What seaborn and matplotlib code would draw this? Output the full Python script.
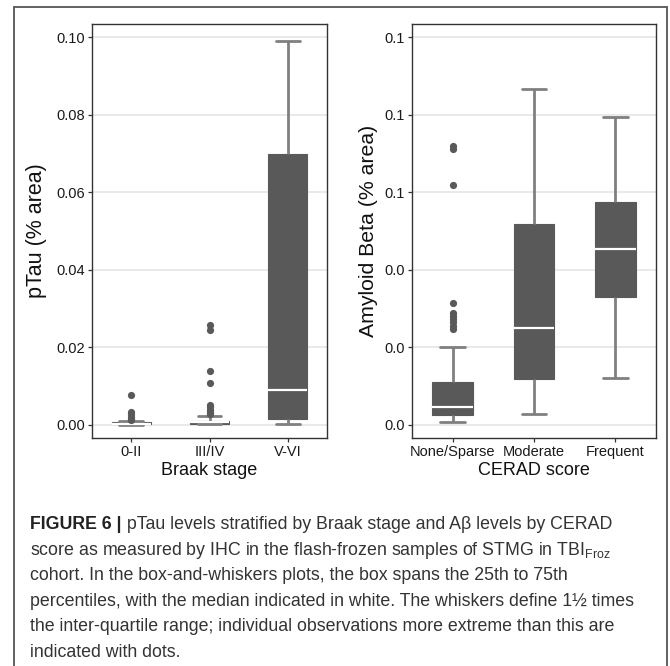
import numpy as np
import pandas as pd
import matplotlib
matplotlib.use("Agg")
import matplotlib.pyplot as plt
import seaborn as sns
from matplotlib import font_manager
from matplotlib.patches import Rectangle
from matplotlib.ticker import FormatStrFormatter, FixedLocator

# ---------------- data ----------------
braak_stages = ["0-II", "III/IV", "V-VI"]
ptau_whislo = [0.0000, 0.0001, 0.0003]
ptau_q1 = [0.0001, 0.0003, 0.0015]
ptau_med = [0.0002, 0.0007, 0.0090]
ptau_q3 = [0.0006, 0.0011, 0.0699]
ptau_whishi = [0.0009, 0.0024, 0.0991]
ptau_outliers = {
    "0-II": [0.0077, 0.0033, 0.0028, 0.0020, 0.0016, 0.0012],
    "III/IV": [0.0258, 0.0245, 0.0139, 0.0109, 0.0052, 0.0045, 0.0038, 0.0032, 0.0028],
    "V-VI": [],
}

cerad_scores = ["None/Sparse", "Moderate", "Frequent"]
ab_whislo = [0.0007, 0.0028, 0.0120]
ab_q1 = [0.0026, 0.0119, 0.0331]
ab_med = [0.0047, 0.0249, 0.0453]
ab_q3 = [0.0110, 0.0519, 0.0575]
ab_whishi = [0.0200, 0.0866, 0.0794]
ab_outliers = {
    "None/Sparse": [0.0718, 0.0712, 0.0619, 0.0314, 0.0288, 0.0280, 0.0272,
                    0.0264, 0.0256, 0.0248],
    "Moderate": [],
    "Frequent": [],
}

y_ticks = [0.00, 0.02, 0.04, 0.06, 0.08, 0.10]

caption_bold = "FIGURE 6 |"
caption_lines = [
    " pTau levels stratified by Braak stage and A\u03b2 levels by CERAD",
    "score as measured by IHC in the flash-frozen samples of STMG in TBI$_{\\mathregular{Froz}}$",
    "cohort. In the box-and-whiskers plots, the box spans the 25th to 75th",
    "percentiles, with the median indicated in white. The whiskers define 1\u00bd times",
    "the inter-quartile range; individual observations more extreme than this are",
    "indicated with dots.",
]

# ---------------- style ----------------
sns.set_theme(style="white")
plt.rcParams["font.family"] = ["Liberation Sans", "DejaVu Sans"]

BOX = "#595959"
WHISK = "#808080"
SPINE = "#333333"

W, H = 670, 666
fig = plt.figure(figsize=(W / 100, H / 100), dpi=100)


def axrect(l, t, r, b):
    return [l / W, 1 - b / H, (r - l) / W, (b - t) / H]


ax1 = fig.add_axes(axrect(92, 24, 327, 438))
ax2 = fig.add_axes(axrect(412, 24, 656, 438))


def box_frame(cats, *cols):
    rows = []
    for i, c in enumerate(cats):
        for col in cols:
            rows.append((c, col[i]))
    return pd.DataFrame(rows, columns=["cat", "val"])


def out_frame(outs):
    rows = [(c, v) for c, vals in outs.items() for v in vals]
    return pd.DataFrame(rows, columns=["cat", "val"])


def draw(ax, cats, bdf, odf, fmt, xlabel, ylabel, ylabel_fs, ylabelpad):
    sns.boxplot(data=bdf, x="cat", y="val", order=cats, ax=ax, color=BOX,
                saturation=1, width=0.5, whis=(0, 100), fliersize=0,
                linewidth=2, linecolor=WHISK,
                medianprops=dict(color="white", linewidth=1.6),
                capwidths=0.3)
    for p in ax.patches:
        p.set_facecolor(BOX)
        p.set_edgecolor(BOX)
        p.set_linewidth(0.8)
    sns.stripplot(data=odf, x="cat", y="val", order=cats, ax=ax,
                  jitter=False, color=BOX, size=5.2, linewidth=0, zorder=3)
    ax.set_xlim(-0.5, 2.5)
    ax.set_ylim(-0.0034, 0.1034)
    ax.yaxis.set_major_locator(FixedLocator(y_ticks))
    ax.yaxis.set_major_formatter(FormatStrFormatter(fmt))
    ax.yaxis.grid(True, color="#e3e3e3", linewidth=1.1)
    ax.xaxis.grid(False)
    ax.set_axisbelow(True)
    ax.tick_params(axis="both", direction="out", length=3, width=0.9,
                   color=SPINE, labelsize=10.5, labelcolor="#1a1a1a", pad=2,
                   bottom=True, left=True)
    for s in ax.spines.values():
        s.set_visible(True)
        s.set_color(SPINE)
        s.set_linewidth(1.0)
    ax.set_xlabel(xlabel, fontsize=13, color="#111111", labelpad=2)
    ax.set_ylabel(ylabel, fontsize=ylabel_fs, color="#111111", labelpad=ylabelpad)


draw(ax1, braak_stages,
     box_frame(braak_stages, ptau_whislo, ptau_q1, ptau_med, ptau_q3, ptau_whishi),
     out_frame(ptau_outliers), "%.2f", "Braak stage", "pTau (% area)", 15.5, 7)
draw(ax2, cerad_scores,
     box_frame(cerad_scores, ab_whislo, ab_q1, ab_med, ab_q3, ab_whishi),
     out_frame(ab_outliers), "%.1f", "CERAD score", "Amyloid Beta (% area)", 15.3, 5)

# outer frame
fig.add_artist(Rectangle((14 / W, -0.2), (667 - 14) / W, (1 - 7 / H) + 0.2,
                         transform=fig.transFigure, fill=False,
                         edgecolor="#555555", linewidth=1.3))

# ---------------- caption ----------------
available = {f.name for f in font_manager.fontManager.ttflist}
cap_fam = ["Liberation Sans Narrow", "Liberation Sans", "DejaVu Sans"] \
    if "Liberation Sans Narrow" in available else ["Liberation Sans", "DejaVu Sans"]

baselines = [529, 555, 580, 606, 631, 657]
x0 = 30
target_right = 612
renderer = fig.canvas.get_renderer()


def build(fs):
    texts = []
    tb = fig.text(x0 / W, 1 - baselines[0] / H, caption_bold, fontsize=fs,
                  weight="bold", family=cap_fam, color="#222222", va="baseline")
    texts.append(tb)
    bb = tb.get_window_extent(renderer)
    t1 = fig.text(bb.x1 / W, 1 - baselines[0] / H, caption_lines[0], fontsize=fs,
                  family=cap_fam, color="#333333", va="baseline")
    texts.append(t1)
    for line, yb in zip(caption_lines[1:], baselines[1:]):
        texts.append(fig.text(x0 / W, 1 - yb / H, line, fontsize=fs,
                              family=cap_fam, color="#333333", va="baseline"))
    return texts, t1.get_window_extent(renderer).x1


texts, right = build(12)
fs = 12 * (target_right - x0) / (right - x0)
for t in texts:
    t.remove()
build(fs)

fig.savefig("out.png", dpi=100)
